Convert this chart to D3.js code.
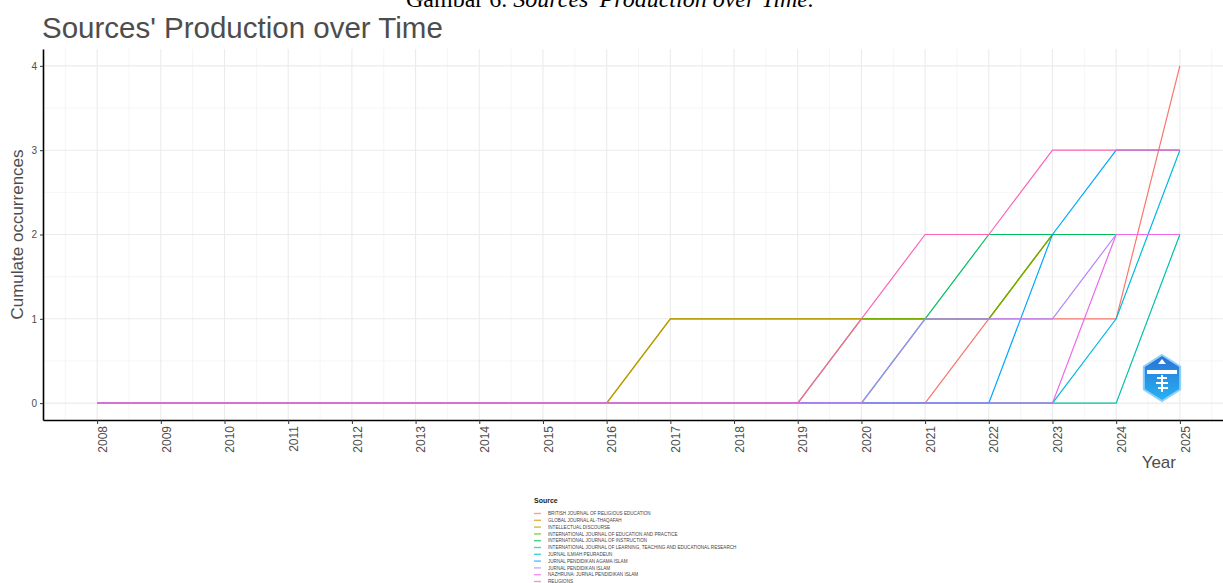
<!DOCTYPE html>
<html>
<head>
<meta charset="utf-8">
<script src="https://cdn.jsdelivr.net/npm/d3@7"></script>
<style>
  body { margin: 0; background: #fff; }
  svg { display: block; font-family: "Liberation Sans", Arial, sans-serif; }
</style>
</head>
<body>
<svg id="chart" width="1223" height="583"></svg>
<script>
// tick labels of the x axis
var years = [2008, 2009, 2010, 2011, 2012, 2013, 2014, 2015, 2016, 2017, 2018, 2019, 2020, 2021, 2022, 2023, 2024, 2025];
var yTicks = [0, 1, 2, 3, 4];

var sources = [
    "BRITISH JOURNAL OF RELIGIOUS EDUCATION",
    "GLOBAL JOURNAL AL-THAQAFAH",
    "INTELLECTUAL DISCOURSE",
    "INTERNATIONAL JOURNAL OF EDUCATION AND PRACTICE",
    "INTERNATIONAL JOURNAL OF INSTRUCTION",
    "INTERNATIONAL JOURNAL OF LEARNING, TEACHING AND EDUCATIONAL RESEARCH",
    "JURNAL ILMIAH PEURADEUN",
    "JURNAL PENDIDIKAN AGAMA ISLAM",
    "JURNAL PENDIDIKAN ISLAM",
    "NAZHRUNA: JURNAL PENDIDIKAN ISLAM",
    "RELIGIONS"
];
var colors = ["#F8766D", "#DB8E00", "#AEA200", "#64B200", "#00BD5C", "#00C1A7", "#00BADE", "#00A6FF", "#B385FF", "#EF67EB", "#FF63B6"];

// cumulate occurrences per year, 2008..2025
var britishJre     = [0, 0, 0, 0, 0, 0, 0, 0, 0, 0, 0, 0, 0, 0, 1, 1, 1, 4];
var globalJat      = [0, 0, 0, 0, 0, 0, 0, 0, 0, 1, 1, 1, 1, 1, 1, 2, 2, 2];
var intellectual   = [0, 0, 0, 0, 0, 0, 0, 0, 0, 1, 1, 1, 1, 1, 1, 2, 2, 2];
var ijEduPractice  = [0, 0, 0, 0, 0, 0, 0, 0, 0, 0, 0, 0, 1, 1, 1, 2, 2, 2];
var ijInstruction  = [0, 0, 0, 0, 0, 0, 0, 0, 0, 0, 0, 0, 0, 1, 2, 2, 2, 2];
var ijLearning     = [0, 0, 0, 0, 0, 0, 0, 0, 0, 0, 0, 0, 0, 0, 0, 0, 0, 2];
var peuradeun      = [0, 0, 0, 0, 0, 0, 0, 0, 0, 0, 0, 0, 0, 0, 0, 0, 1, 3];
var jpai           = [0, 0, 0, 0, 0, 0, 0, 0, 0, 0, 0, 0, 0, 0, 0, 2, 3, 3];
var jpi            = [0, 0, 0, 0, 0, 0, 0, 0, 0, 0, 0, 0, 0, 1, 1, 1, 2, 2];
var nazhruna       = [0, 0, 0, 0, 0, 0, 0, 0, 0, 0, 0, 0, 0, 0, 0, 0, 2, 2];
var religions      = [0, 0, 0, 0, 0, 0, 0, 0, 0, 0, 0, 0, 1, 2, 2, 3, 3, 3];

var series = [britishJre, globalJat, intellectual, ijEduPractice, ijInstruction, ijLearning,
              peuradeun, jpai, jpi, nazhruna, religions];

var svg = d3.select("#chart");
var margin = { left: 43, top: 49, bottom: 420 };

// ggplot style 5% expansion on both axes
var xSpan = years[years.length - 1] - years[0];
var x = d3.scaleLinear()
    .domain([years[0] - xSpan * 0.05, years[years.length - 1] + xSpan * 0.05])
    .range([margin.left, 1234]);
var y = d3.scaleLinear()
    .domain([-0.2, 4.2])
    .range([margin.bottom, margin.top]);

// caption of the page, cut at the top edge
var cap = svg.append("text")
    .attr("x", 610).attr("y", 7)
    .attr("text-anchor", "middle")
    .style("font-family", "'Liberation Serif', 'Times New Roman', serif")
    .style("font-size", "24px")
    .attr("fill", "#000");
cap.append("tspan").text("Gambar 6. ");
cap.append("tspan").style("font-style", "italic").text("Sources' Production over Time.");

svg.append("text")
    .attr("x", 42).attr("y", 38)
    .style("font-size", "29.5px")
    .attr("fill", "#4d4d4d")
    .text("Sources' Production over Time");

var panel = svg.append("g");

// minor grid
var minorX = years.map(function (d) { return d - 0.5; }).concat([years[years.length - 1] + 0.5]);
panel.selectAll(".minor-x").data(minorX).enter().append("line")
    .attr("x1", function (d) { return x(d); }).attr("x2", function (d) { return x(d); })
    .attr("y1", margin.top).attr("y2", margin.bottom)
    .attr("stroke", "#f3f3f3").attr("stroke-width", 0.8);
panel.selectAll(".minor-y").data([0.5, 1.5, 2.5, 3.5]).enter().append("line")
    .attr("x1", margin.left).attr("x2", 1234)
    .attr("y1", function (d) { return y(d); }).attr("y2", function (d) { return y(d); })
    .attr("stroke", "#f3f3f3").attr("stroke-width", 0.8);

// major grid
panel.selectAll(".major-x").data(years).enter().append("line")
    .attr("x1", function (d) { return x(d); }).attr("x2", function (d) { return x(d); })
    .attr("y1", margin.top).attr("y2", margin.bottom)
    .attr("stroke", "#ebebeb").attr("stroke-width", 1.1);
panel.selectAll(".major-y").data(yTicks).enter().append("line")
    .attr("x1", margin.left).attr("x2", 1234)
    .attr("y1", function (d) { return y(d); }).attr("y2", function (d) { return y(d); })
    .attr("stroke", "#ebebeb").attr("stroke-width", 1.1);

// lines, drawn in legend order (last one on top)
var line = d3.line()
    .x(function (d, i) { return x(years[i]); })
    .y(function (d) { return y(d); });

panel.selectAll(".series").data(series).enter().append("path")
    .attr("class", "series")
    .attr("d", line)
    .attr("fill", "none")
    .attr("stroke", function (d, i) { return colors[i]; })
    .attr("stroke-width", 1.2);

// axes
var xAxis = svg.append("g")
    .attr("transform", "translate(0," + margin.bottom + ")")
    .call(d3.axisBottom(x).tickValues(years).tickFormat(d3.format("d")).tickSize(4).tickSizeOuter(0));
xAxis.select(".domain").attr("stroke", "#000").attr("stroke-width", 1.6);
xAxis.selectAll(".tick line").attr("stroke", "#333");
xAxis.selectAll(".tick text")
    .attr("x", -6).attr("y", 0).attr("dy", "0.35em")
    .attr("transform", "translate(5,0) rotate(-90)")
    .style("text-anchor", "end")
    .style("font-size", "12px")
    .attr("fill", "#4d4d4d");

var yAxis = svg.append("g")
    .attr("transform", "translate(" + margin.left + ",0)")
    .call(d3.axisLeft(y).tickValues(yTicks).tickFormat(d3.format("d")).tickSize(3).tickSizeOuter(0));
yAxis.select(".domain").attr("stroke", "#000").attr("stroke-width", 1.6);
yAxis.selectAll(".tick line").attr("stroke", "#333");
yAxis.selectAll(".tick text")
    .attr("x", -6)
    .style("font-size", "10px")
    .attr("fill", "#4d4d4d");

svg.append("text")
    .attr("transform", "translate(23," + (margin.top + margin.bottom) / 2 + ") rotate(-90)")
    .attr("text-anchor", "middle")
    .style("font-size", "17px")
    .attr("fill", "#4d4d4d")
    .text("Cumulate occurrences");

svg.append("text")
    .attr("x", 1176).attr("y", 468)
    .attr("text-anchor", "end")
    .style("font-size", "17px")
    .attr("fill", "#4d4d4d")
    .text("Year");

// watermark logo
var logo = svg.append("g").attr("transform", "translate(1162,378)");
var grad = svg.append("defs").append("linearGradient")
    .attr("id", "logoGrad").attr("x1", 0).attr("y1", 0).attr("x2", 0).attr("y2", 1);
grad.append("stop").attr("offset", "0%").attr("stop-color", "#2a6fd6");
grad.append("stop").attr("offset", "100%").attr("stop-color", "#27b4f0");
var hex = d3.range(6).map(function (i) {
    var a = Math.PI / 3 * i - Math.PI / 2;
    return [Math.cos(a) * 21, Math.sin(a) * 23];
});
logo.append("polygon")
    .attr("points", hex.map(function (p) { return p.join(","); }).join(" "))
    .attr("fill", "url(#logoGrad)")
    .attr("stroke", "#8fd0fa").attr("stroke-width", 2);
logo.append("rect").attr("x", -15).attr("y", -8).attr("width", 30).attr("height", 4).attr("fill", "#fff");
logo.append("path").attr("d", "M-4,-14 L0,-19 L4,-14 Z").attr("fill", "#fff");
logo.append("path").attr("d", "M-5,0 L5,0 M-6,5 L6,5 M-4,10 L6,10 M0,-3 L0,14")
    .attr("stroke", "#fff").attr("stroke-width", 2).attr("fill", "none");

// legend
var legend = svg.append("g").attr("transform", "translate(534,0)");
legend.append("text")
    .attr("x", 0).attr("y", 503)
    .style("font-size", "7px").style("font-weight", "bold")
    .attr("fill", "#222")
    .text("Source");
var items = legend.selectAll(".item").data(sources).enter().append("g")
    .attr("transform", function (d, i) { return "translate(0," + (513.5 + i * 6.8) + ")"; });
items.append("line")
    .attr("x1", 0).attr("x2", 7)
    .attr("stroke", function (d, i) { return colors[i]; })
    .attr("stroke-width", 1.4)
    .attr("stroke-opacity", 0.7);
items.append("text")
    .attr("x", 14).attr("dy", "0.35em")
    .style("font-size", "4.6px")
    .attr("fill", "#444")
    .text(function (d) { return d; });
</script>
</body>
</html>
